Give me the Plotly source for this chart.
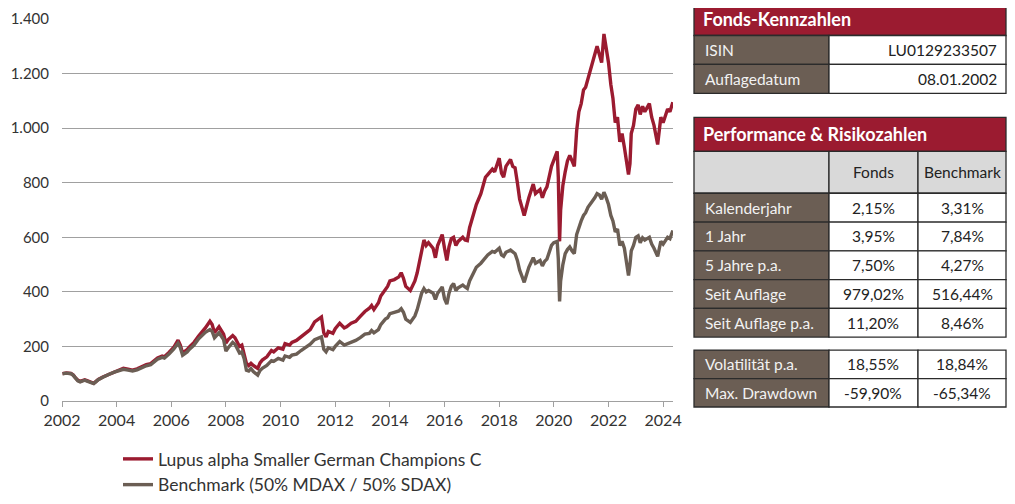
import plotly.graph_objects as go

# --- data -------------------------------------------------------------
dates = [
    "2002-01-08", "2002-03-01", "2002-05-01", "2002-06-01", "2002-07-01", "2002-08-01",
    "2002-09-01", "2002-10-01", "2002-11-01", "2002-12-01", "2003-01-01", "2003-03-01",
    "2003-04-01", "2003-05-01", "2003-07-01", "2003-09-01", "2003-10-01", "2003-12-01",
    "2004-02-01", "2004-04-01", "2004-06-01", "2004-08-01", "2004-10-01", "2004-12-01",
    "2005-02-01", "2005-04-01", "2005-05-01", "2005-07-01", "2005-09-01", "2005-10-01",
    "2005-12-01", "2006-02-01", "2006-04-01", "2006-05-01", "2006-06-01", "2006-08-01",
    "2006-09-01", "2006-11-01", "2007-01-01", "2007-03-01", "2007-04-01", "2007-06-01",
    "2007-07-01", "2007-08-01", "2007-09-01", "2007-10-01", "2007-12-01", "2008-01-01",
    "2008-02-01", "2008-04-01", "2008-05-01", "2008-07-01", "2008-08-01", "2008-09-01",
    "2008-10-01", "2008-11-01", "2008-12-01", "2009-01-01", "2009-03-01", "2009-04-01",
    "2009-05-01", "2009-07-01", "2009-09-01", "2009-10-01", "2009-12-01", "2010-02-01",
    "2010-03-01", "2010-05-01", "2010-06-01", "2010-08-01", "2010-10-01", "2010-12-01",
    "2011-02-01", "2011-04-01", "2011-06-01", "2011-07-01", "2011-08-01", "2011-09-01",
    "2011-10-01", "2011-12-01", "2012-01-01", "2012-03-01", "2012-05-01", "2012-06-01",
    "2012-08-01", "2012-10-01", "2012-12-01", "2013-02-01", "2013-04-01", "2013-05-01",
    "2013-06-01", "2013-08-01", "2013-09-01", "2013-11-01", "2013-12-01", "2014-01-01",
    "2014-03-01", "2014-05-01", "2014-06-01", "2014-07-01", "2014-08-01", "2014-10-01",
    "2014-12-01", "2015-01-01", "2015-03-01", "2015-04-01", "2015-05-01", "2015-06-01",
    "2015-08-01", "2015-09-01", "2015-10-01", "2015-12-01", "2016-01-01", "2016-02-01",
    "2016-03-01", "2016-04-01", "2016-05-01", "2016-06-01", "2016-07-01", "2016-09-01",
    "2016-10-01", "2016-11-01", "2016-12-01", "2017-02-01", "2017-03-01", "2017-05-01",
    "2017-07-01", "2017-08-01", "2017-10-01", "2017-11-01", "2018-01-01", "2018-02-01",
    "2018-03-01", "2018-04-01", "2018-06-01", "2018-07-01", "2018-08-01", "2018-09-01",
    "2018-10-01", "2018-12-01", "2019-01-01", "2019-02-01", "2019-04-01", "2019-05-01",
    "2019-07-01", "2019-08-01", "2019-09-01", "2019-10-01", "2019-12-01", "2020-01-01",
    "2020-02-15", "2020-03-01", "2020-03-18", "2020-04-01", "2020-05-01", "2020-06-01",
    "2020-07-01", "2020-08-01", "2020-09-01", "2020-10-01", "2020-11-01", "2020-12-01",
    "2021-01-01", "2021-02-01", "2021-03-01", "2021-04-01", "2021-05-01", "2021-06-01",
    "2021-07-01", "2021-08-01", "2021-09-01", "2021-10-01", "2021-11-01", "2021-12-01",
    "2022-01-01", "2022-02-01", "2022-03-01", "2022-04-01", "2022-05-01", "2022-06-01",
    "2022-07-01", "2022-08-01", "2022-09-25", "2022-10-15", "2022-11-01", "2022-12-01",
    "2023-01-01", "2023-02-01", "2023-03-01", "2023-04-01", "2023-05-01", "2023-06-01",
    "2023-07-01", "2023-08-01", "2023-09-01", "2023-10-20", "2023-11-15", "2023-12-01",
    "2024-01-01", "2024-02-01", "2024-03-01", "2024-04-01", "2024-05-10",
]

fonds = [
    100, 103, 101, 95, 85, 76, 72, 74, 78, 75, 72, 65,
    72, 79, 88, 95, 101, 108, 115, 120, 117, 113, 118, 126,
    133, 137, 145, 158, 165, 162, 178, 196, 223, 205, 176, 188,
    198, 215, 238, 255, 268, 292, 280, 250, 262, 272, 245, 212,
    225, 240, 232, 200, 205, 175, 138, 130, 138, 130, 119, 140,
    150, 162, 185, 180, 195, 190, 210, 205, 215, 222, 235, 250,
    262, 290, 300, 308, 250, 235, 255, 248, 265, 285, 268, 272,
    285, 292, 310, 328, 340, 350, 335, 360, 385, 410, 420, 440,
    445, 455, 470, 450, 420, 405, 440, 470, 560, 590, 570, 580,
    560, 525, 570, 610, 560, 515, 565, 595, 600, 570, 585, 600,
    590, 588, 635, 690, 720, 760, 820, 830, 850, 840, 890, 835,
    820, 860, 885, 860, 855, 800, 740, 680, 720, 745, 795, 760,
    775, 745, 770, 785, 860, 880, 915, 820, 585, 700, 790, 840,
    880, 900, 880, 860, 990, 1060, 1090, 1140, 1150, 1180, 1200, 1230,
    1260, 1300, 1270, 1240, 1345, 1300, 1240, 1160, 1110, 1020, 1040, 950,
    980, 930, 830, 870, 980, 1010, 1070, 1085, 1050, 1080, 1060, 1075,
    1090, 1040, 1010, 940, 1000, 1040, 1020, 1050, 1070, 1060, 1095,
]

benchmark = [
    100, 102, 100, 94, 84, 74, 70, 72, 76, 73, 70, 64,
    71, 78, 87, 93, 99, 106, 112, 116, 113, 110, 114, 122,
    129, 133, 140, 153, 160, 157, 172, 190, 212, 196, 168, 180,
    190, 205, 228, 243, 252, 262, 255, 232, 243, 250, 225, 183,
    195, 215, 208, 176, 180, 155, 113, 110, 119, 108, 95, 112,
    120, 130, 148, 145, 156, 150, 165, 160, 168, 172, 185, 197,
    208, 225, 232, 235, 190, 180, 195, 188, 200, 218, 205, 208,
    215, 222, 232, 245, 248, 258, 250, 262, 280, 300, 305, 320,
    325, 330, 338, 325, 300, 288, 312, 335, 395, 412, 400, 405,
    395, 372, 395, 418, 375, 355, 395, 420, 430, 405, 415, 425,
    418, 412, 440, 475, 490, 505, 525, 535, 548, 545, 560, 535,
    530, 545, 553, 545, 540, 515, 480, 435, 465, 490, 525, 505,
    515, 495, 512, 520, 570, 580, 585, 520, 365, 440, 500, 540,
    555, 565, 550, 540, 610, 640, 660, 680, 690, 710, 720, 735,
    745, 760, 755, 740, 765, 745, 720, 680, 660, 620, 630, 570,
    585, 560, 460, 500, 550, 570, 600, 605, 580, 598, 590, 595,
    600, 575, 560, 530, 565, 585, 575, 590, 600, 595, 625,
]

y_ticks = [0, 200, 400, 600, 800, 1000, 1200, 1400]
y_tick_labels = ["0", "200", "400", "600", "800", "1.000", "1.200", "1.400"]
x_ticks = ["2002-01-01", "2004-01-01", "2006-01-01", "2008-01-01", "2010-01-01", "2012-01-01",
           "2014-01-01", "2016-01-01", "2018-01-01", "2020-01-01", "2022-01-01", "2024-01-01"]
x_tick_labels = ["2002", "2004", "2006", "2008", "2010", "2012",
                 "2014", "2016", "2018", "2020", "2022", "2024"]

kenn_labels = ["ISIN", "Auflagedatum"]
kenn_values = ["LU0129233507", "08.01.2002"]

perf_cols = ["Fonds", "Benchmark"]
perf_labels = ["Kalenderjahr", "1 Jahr", "5 Jahre p.a.", "Seit Auflage", "Seit Auflage p.a."]
perf_fonds = ["2,15%", "3,95%", "7,50%", "979,02%", "11,20%"]
perf_bench = ["3,31%", "7,84%", "4,27%", "516,44%", "8,46%"]

risk_labels = ["Volatilität p.a.", "Max. Drawdown"]
risk_fonds = ["18,55%", "-59,90%"]
risk_bench = ["18,84%", "-65,34%"]

RED = "#9b1b30"
BROWN = "#6b5e54"
FONT = "Lato"

# --- chart ------------------------------------------------------------
# the page body adds an 8px margin all round, so the figure is laid out
# 8px up/left and kept 16px smaller than the window to avoid scrollbars
OFF = 8
W, H = 1015 - 2 * OFF, 504 - 2 * OFF
L, R, T, B = 62 - OFF, 673 - OFF, 18.5 - OFF, 401 - OFF

fig = go.Figure()
fig.add_trace(go.Scatter(x=dates, y=fonds, mode="lines", name="Lupus alpha Smaller German Champions C",
                         line=dict(color=RED, width=3.4)))
fig.add_trace(go.Scatter(x=dates, y=benchmark, mode="lines", name="Benchmark (50% MDAX / 50% SDAX)",
                         line=dict(color=BROWN, width=3.4)))


def px(x):
    return (x - OFF - L) / (R - L)


def py(y):
    return (B - (y - OFF)) / (B - T)


shapes = []
annotations = []


def cell(x0, x1, y0, y1, fill):
    shapes.append(dict(type="rect", xref="paper", yref="paper", x0=px(x0), x1=px(x1), y0=py(y1), y1=py(y0),
                       fillcolor=fill, line=dict(color="#2b2b2b", width=1.3), layer="above"))


def text(s, x, y, anchor, color, size=15.5, bold=False):
    annotations.append(dict(text="<b>%s</b>" % s if bold else s, xref="paper", yref="paper",
                            x=px(x), y=py(y), xanchor=anchor, yanchor="middle", showarrow=False,
                            font=dict(family=FONT, size=size, color=color)))


# table 1: Fonds-Kennzahlen (page x 693..1006)
TX0, TX1, TX2, TX3 = 694, 829, 918, 1006
cell(TX0, TX3, 2, 35, RED)
text("Fonds-Kennzahlen", TX0 + 7, 18.5, "left", "white", size=18, bold=True)
row_h = 29
for i, (lab, val) in enumerate(zip(kenn_labels, kenn_values)):
    y0 = 35 + i * row_h
    cell(TX0, TX1, y0, y0 + row_h, BROWN)
    cell(TX1, TX3, y0, y0 + row_h, "white")
    text(lab, TX0 + 9, y0 + row_h / 2, "left", "#f2f2f2")
    text(val, TX3 - 7, y0 + row_h / 2, "right", "#222222")

# table 2: Performance & Risikozahlen
cell(TX0, TX3, 117, 151, RED)
text("Performance &amp; Risikozahlen", TX0 + 7, 134, "left", "white", size=18, bold=True)
cell(TX0, TX1, 151, 193, "#d9d9d9")
cell(TX1, TX2, 151, 193, "#d9d9d9")
cell(TX2, TX3, 151, 193, "#d9d9d9")
text(perf_cols[0], (TX1 + TX2) / 2, 172, "center", "#222222")
text(perf_cols[1], (TX2 + TX3) / 2, 172, "center", "#222222")


def rows(labels, f, b, top, h):
    for i, (lab, v1, v2) in enumerate(zip(labels, f, b)):
        y0 = top + i * h
        cell(TX0, TX1, y0, y0 + h, BROWN)
        cell(TX1, TX2, y0, y0 + h, "white")
        cell(TX2, TX3, y0, y0 + h, "white")
        text(lab, TX0 + 9, y0 + h / 2, "left", "#f2f2f2")
        text(v1, (TX1 + TX2) / 2, y0 + h / 2, "center", "#222222")
        text(v2, (TX2 + TX3) / 2, y0 + h / 2, "center", "#222222")


rows(perf_labels, perf_fonds, perf_bench, 193, 28.8)
rows(risk_labels, risk_fonds, risk_bench, 350, 28.5)

fig.update_layout(
    width=W, height=H,
    margin=dict(l=L, r=W - R, t=T, b=H - B, pad=0, autoexpand=False),
    paper_bgcolor="white", plot_bgcolor="white",
    font=dict(family=FONT, size=16, color="#333333"),
    showlegend=True,
    legend=dict(xref="container", yref="container", x=(118 - OFF) / W, y=1 - (441 - OFF) / H,
                xanchor="left", yanchor="top", bgcolor="rgba(0,0,0,0)",
                font=dict(family=FONT, size=17.5, color="#333333"), tracegroupgap=0, itemwidth=30),
    xaxis=dict(type="date", range=["2002-01-01", "2024-05-12"], tickmode="array", automargin=False,
               tickvals=x_ticks, ticktext=x_tick_labels, showgrid=False, zeroline=False,
               showline=True, linecolor="#a0a0a0", linewidth=1.3, ticks="outside", ticklen=5,
               tickcolor="#a0a0a0", tickwidth=1.3, tickfont=dict(size=16, color="#333333")),
    yaxis=dict(range=[0, 1400], tickmode="array", tickvals=y_ticks, ticktext=y_tick_labels,
               automargin=False, showgrid=True, gridcolor="#a0a0a0", gridwidth=1.3,
               zeroline=False, showline=False,
               ticks="", ticklabelstandoff=12, tickfont=dict(size=15, color="#333333")),
    shapes=shapes,
    annotations=annotations,
)

fig.write_html("out.html")
